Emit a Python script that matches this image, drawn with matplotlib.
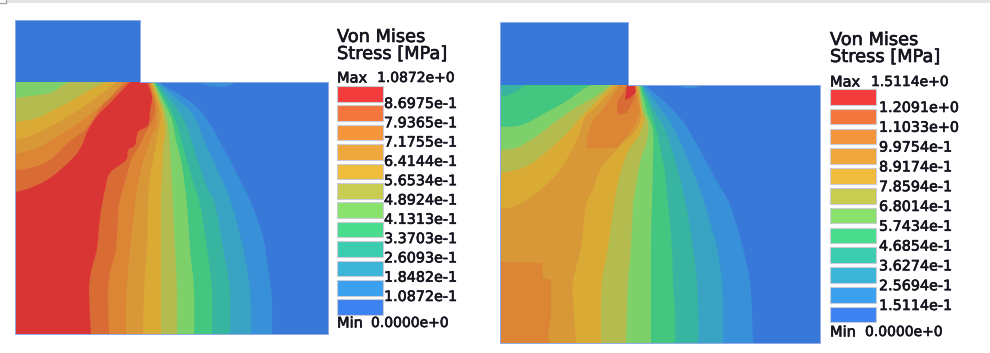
import matplotlib.pyplot as plt
from matplotlib.path import Path
from matplotlib.patches import PathPatch
import matplotlib.patheffects as pe

# legend values
labels_a = ["8.6975e-1", "7.9365e-1", "7.1755e-1", "6.4144e-1", "5.6534e-1", "4.8924e-1",
            "4.1313e-1", "3.3703e-1", "2.6093e-1", "1.8482e-1", "1.0872e-1"]
labels_b = ["1.2091e+0", "1.1033e+0", "9.9754e-1", "8.9174e-1", "7.8594e-1", "6.8014e-1",
            "5.7434e-1", "4.6854e-1", "3.6274e-1", "2.5694e-1", "1.5114e-1"]
max_a = "1.0872e+0"
max_b = "1.5114e+0"
min_val = "0.0000e+0"

# colours, hot to cold
band = ["#D93535", "#D96B35", "#DB8535", "#D99838", "#D9AB35", "#B4BC50",
        "#7ED06A", "#42C680", "#38B5A0", "#38A3C2", "#3890D8", "#3878D8"]
swatch = ["#F53C3C", "#F5763C", "#F5963C", "#F0A83C", "#F0BC3C", "#C8CC50",
          "#88E26C", "#48DC8C", "#3CCCB0", "#3CB4D8", "#3CA0F0", "#3C82F0"]

# left model, contour lines (image pixels)
a_fan = [
    [(147, 82), (152, 97), (150, 110), (148, 125), (138, 132), (135, 145), (128, 150), (126, 160),
     (110, 173), (105, 190), (100, 217), (97, 248), (91, 272), (89, 292), (91, 334)],
    [(149, 82), (154, 101), (155, 111), (152, 121), (148, 128), (143, 138), (138, 148), (132, 158),
     (127, 175), (119, 205), (116, 248), (110, 272), (108, 295), (109, 334)],
    [(150, 82), (157, 106), (157, 116), (157, 125), (152, 135), (147, 150), (142, 165), (137, 188),
     (135, 205), (130, 248), (128, 272), (126, 305), (126, 334)],
    [(151, 82), (159, 106), (161, 118), (159, 130), (155, 150), (150, 178), (148, 205), (147, 248),
     (144, 290), (143, 334)],
    [(152, 82), (161, 106), (164, 120), (165, 135), (163, 150), (162, 178), (161, 205), (161, 334)],
    [(153, 82), (163, 106), (167, 120), (169, 135), (171, 165), (173, 205), (175, 248), (177, 290), (177, 334)],
    [(154, 82), (166, 106), (172, 120), (176, 140), (182, 165), (187, 205), (190, 248), (194, 290), (194, 334)],
    [(155, 82), (170, 108), (178, 128), (186, 158), (194, 185), (200, 205), (207, 248), (212, 290), (212, 334)],
    [(156, 82), (175, 106), (186, 125), (196, 155), (206, 185), (215, 205), (223, 248), (230, 290), (230, 334)],
    [(157, 82), (182, 103), (195, 118), (206, 145), (220, 175), (232, 205), (243, 248), (250, 290), (251, 334)],
    [(158, 82), (192, 103), (208, 121), (225, 151), (236, 172), (249, 198), (262, 233), (268, 267), (272, 300), (272, 334)],
]
a_corner = [
    (1, [(15, 192), (30, 188), (50, 178), (73, 158), (82, 145), (88, 130), (98, 115), (110, 103), (130, 82)]),
    (2, [(15, 170), (30, 168), (50, 160), (70, 141), (87, 128), (100, 108), (110, 98), (126, 82)]),
    (3, [(15, 154), (37, 148), (60, 135), (83, 120), (107, 100), (123, 82)]),
    (4, [(15, 140), (33, 135), (53, 125), (77, 111), (100, 95), (117, 82)]),
    (5, [(15, 122), (37, 118), (53, 110), (73, 100), (93, 88), (107, 82)]),
    (6, [(15, 98), (30, 96), (50, 93), (63, 85), (70, 82)]),
]
a_dome = [(197, 82), (210, 86), (225, 87), (238, 82)]

# right model
b_fan = [
    [(637, 85), (640, 105), (641, 118), (636, 130), (630, 137), (623, 143), (610, 157), (600, 170), (593, 190),
     (586, 205), (581, 248), (573, 282), (574, 312), (576, 343)],
    [(638, 85), (642, 110), (644, 120), (638, 137), (627, 153), (618, 183), (614, 205), (608, 248), (602, 282),
     (601, 312), (601, 343)],
    [(639, 85), (643, 110), (648, 123), (647, 140), (640, 163), (635, 193), (633, 205), (631, 248), (628, 282),
     (627, 312), (626, 343)],
    [(640, 85), (647, 112), (653, 130), (653, 163), (652, 205), (651, 248), (651, 343)],
    [(641, 85), (652, 115), (658, 137), (665, 173), (668, 205), (672, 248), (673, 282), (675, 312), (675, 343)],
    [(642, 85), (655, 112), (665, 130), (677, 167), (686, 205), (693, 248), (697, 282), (698, 312), (698, 343)],
    [(643, 85), (660, 108), (673, 127), (687, 157), (697, 182), (706, 208), (717, 248), (722, 282), (723, 312), (723, 343)],
    [(645, 85), (667, 104), (684, 123), (700, 150), (716, 180), (730, 205), (743, 248), (750, 282), (752, 312), (753, 343)],
]
b_corner = [
    (4, [(500, 209), (518, 205), (538, 192), (558, 173), (568, 157), (578, 137), (585, 117), (595, 108), (610, 92), (617, 85)]),
    (5, [(500, 173), (525, 167), (545, 153), (565, 135), (580, 118), (598, 100), (613, 85)]),
    (6, [(500, 150), (518, 147), (538, 135), (555, 122), (575, 108), (595, 97), (610, 85)]),
    (7, [(500, 127), (522, 125), (545, 113), (565, 102), (585, 88), (592, 85)]),
    (8, [(500, 93), (505, 96), (515, 92), (525, 85)]),
]
b_blobs = [
    (2, [(587, 148), (587, 137), (592, 122), (602, 110), (612, 97), (619, 85), (632, 85), (637, 95), (640, 112),
         (636, 123), (628, 135), (617, 148)]),
    (2, [(500, 262), (542, 263), (543, 278), (551, 280), (551, 317), (548, 333), (549, 343), (500, 343)]),
    (1, [(617, 108), (618, 100), (623, 93), (627, 85), (635, 85), (635, 97), (627, 113), (618, 115)]),
    (0, [(625, 100), (627, 85), (635, 85), (636, 92), (630, 98)]),
]
b_dome = [(675, 85), (685, 88), (695, 88), (703, 85)]

fig = plt.figure(figsize=(9.9, 3.53), dpi=100)
ax = fig.add_axes([0, 0, 1, 1])
ax.set_xlim(0, 990)
ax.set_ylim(353, 0)
ax.axis("off")


def curved(line, rest, c, z):
    # bezier through the read points, then straight along the plate edges
    verts = [line[0]]
    codes = [Path.MOVETO]
    for i in range(len(line) - 1):
        p0 = line[max(i - 1, 0)]
        p1 = line[i]
        p2 = line[i + 1]
        p3 = line[min(i + 2, len(line) - 1)]
        verts.append((p1[0] + (p2[0] - p0[0]) / 6, p1[1] + (p2[1] - p0[1]) / 6))
        verts.append((p2[0] - (p3[0] - p1[0]) / 6, p2[1] - (p3[1] - p1[1]) / 6))
        verts.append(p2)
        codes += [Path.CURVE4] * 3
    for p in rest:
        verts.append(p)
        codes.append(Path.LINETO)
    verts.append(line[0])
    codes.append(Path.CLOSEPOLY)
    ax.add_patch(PathPatch(Path(verts, codes), facecolor=c, edgecolor="none", lw=0, zorder=z))


def model(x0, x1, top, y0, y1, notch, fan, corner, blobs, dome, first):
    # punch block above the plate
    ax.fill([x0, notch, notch, x0], [top, top, y0, y0], color=band[11], lw=0, zorder=2)
    ax.fill([x0, x1, x1, x0], [y0, y0, y1, y1], color=band[first], lw=0, zorder=2)
    z = 3
    # fan of lines coming from the punch corner, paint from hot to cold
    for i, line in enumerate(fan):
        curved(line, [(x1, y1), (x1, y0)], band[first + 1 + i], z)
        z += 1
    for c, line in corner:
        curved(line, [(x0, y0)], band[c], z)
        z += 1
    for c, line in blobs:
        ax.fill([p[0] for p in line], [p[1] for p in line], color=band[c], lw=0, zorder=z)
        z += 1
    ax.fill([p[0] for p in dome], [p[1] for p in dome], color=band[10], lw=0, zorder=z)
    # thin outline
    ax.plot([x0, notch, notch, x1, x1, x0, x0], [top, top, y0, y0, y1, y1, top],
            color="#8FAAEA", lw=0.7, zorder=z + 1)


def put(x, y, t, size):
    txt = ax.text(x, y, t, fontsize=size, color="#15151f", va="center")
    txt.set_path_effects([pe.withStroke(linewidth=0.45, foreground="#15151f")])


def legend(x, y_sw, pitch_sw, y_lab, pitch_lab, x_lab, labels, max_txt, x_max, y_max, x_min, y_min, y_t1, y_t2):
    for i, c in enumerate(swatch):
        ax.bar(x, 15.5, width=46, bottom=y_sw + i * pitch_sw, align="edge", color=c,
               edgecolor="#C9CBD6", linewidth=0.8)
    put(x, y_t1, "Von Mises", 12.8)
    put(x, y_t2, "Stress [MPa]", 12.8)
    put(x, y_max, "Max", 10.5)
    put(x_max, y_max, max_txt, 10)
    put(x, y_min, "Min", 10.5)
    put(x_min, y_min, min_val, 10)
    for i, t in enumerate(labels):
        put(x_lab, y_lab + i * pitch_lab, t, 10.3)


# window strip along the top of the screenshot
ax.fill([7, 990, 990, 7], [0, 0, 3, 3], color="#E4E4E4", lw=0)
ax.plot([0, 6, 6], [3, 3, 0], color="#A8A8A8", lw=1)

model(15, 328, 20, 82, 334, 140, a_fan, a_corner, [], a_dome, 0)
model(500, 820, 22, 85, 343, 628, b_fan, b_corner, b_blobs, b_dome, 3)

legend(337, 86, 19.4, 104, 19.3, 384, labels_a, max_a, 377, 78, 371, 323, 37, 54)
legend(830, 89, 19.8, 108, 19.8, 879, labels_b, max_b, 871, 82, 865, 332, 40, 57)

plt.savefig("out.png", dpi=100)
